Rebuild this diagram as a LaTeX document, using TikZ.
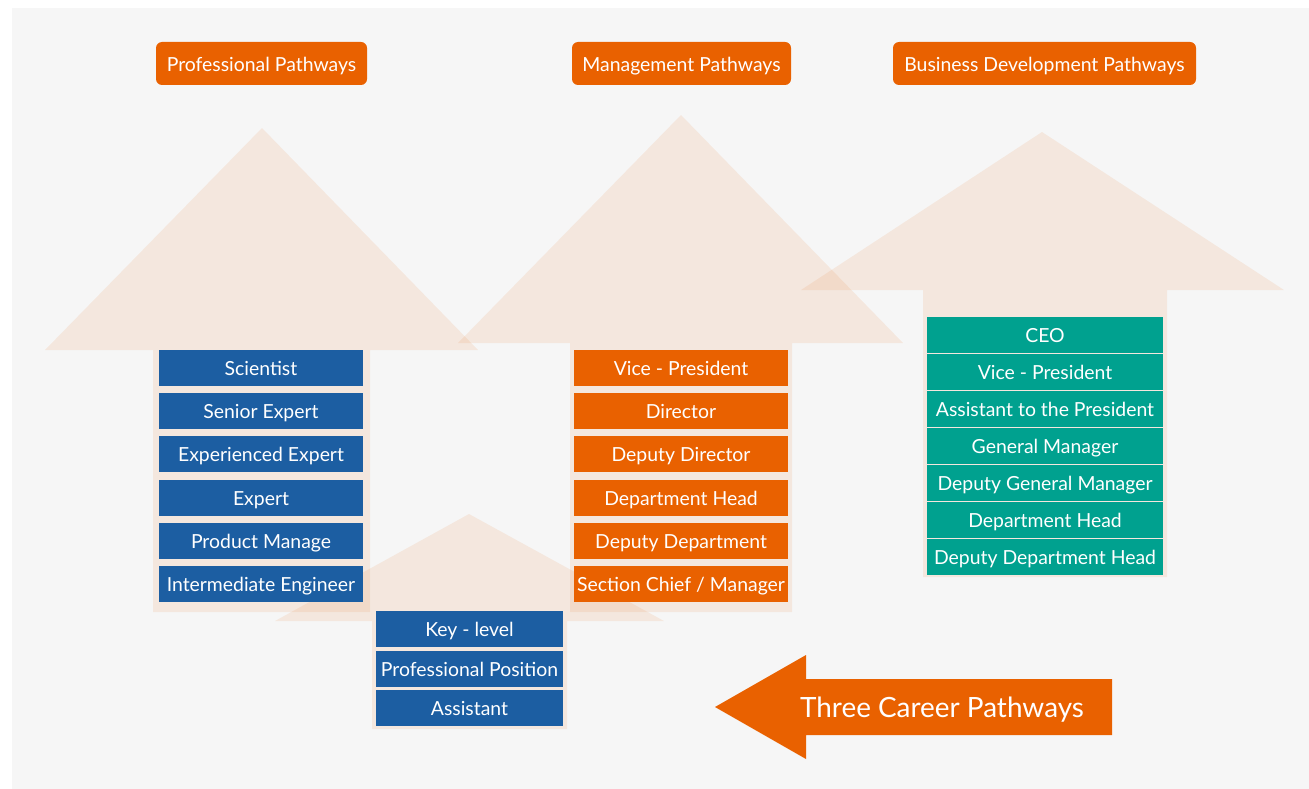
\documentclass[tikz,border=0pt]{standalone}
\usepackage{fontspec}
\setmainfont{Lato}
\definecolor{bgc}{HTML}{F6F6F6}
\definecolor{cblue}{HTML}{1C5EA2}
\definecolor{corange}{HTML}{E96100}
\definecolor{cteal}{HTML}{00A18F}
\tikzset{
  bigarrow/.style={fill=corange, fill opacity=0.095, draw=none},
  cellbase/.style={minimum height=36pt, inner sep=0pt, text=white, text height=17pt, text depth=1.5pt, font=\fontsize{19.4}{23}\selectfont},
  bluecell/.style={cellbase, fill=cblue, minimum width=204pt},
  orangecell/.style={cellbase, fill=corange, minimum width=214pt},
  tealcell/.style={cellbase, fill=cteal, minimum width=236pt},
  lowcell/.style={cellbase, fill=cblue, minimum width=187pt},
  header/.style={fill=corange, rounded corners=6pt, minimum height=43pt, inner sep=0pt, text=white, text height=17pt, text depth=1.5pt, font=\fontsize{19.4}{23}\selectfont},
}
\begin{document}
\begin{tikzpicture}[x=1pt,y=-1pt]
\useasboundingbox (0,0) rectangle (1309,789);
\fill[white] (0,0) rectangle (1309,789);
\fill[bgc] (12,8) rectangle (1309,789);
% background arrows
\fill[bigarrow] (262,128) -- (478,350) -- (370,350) -- (370,612) -- (153,612) -- (153,350) -- (45,350) -- cycle;
\fill[bigarrow] (681,115) -- (903,343) -- (792,343) -- (792,612) -- (570,612) -- (570,343) -- (458,343) -- cycle;
\fill[bigarrow] (1042,132) -- (1284,290) -- (1167,290) -- (1167,577) -- (923,577) -- (923,290) -- (801,290) -- cycle;
\fill[bigarrow] (469,514) -- (664,621) -- (567,621) -- (567,729) -- (372,729) -- (372,621) -- (275,621) -- cycle;
% headers
\node[header, minimum width=211pt] (h1) at (261.5,63.5) {Professional Pathways};
\node[header, minimum width=219pt] (h2) at (681.5,63.5) {Management Pathways};
\node[header, minimum width=303pt] (h3) at (1044.5,63.5) {Business Development Pathways};
% professional
\node[bluecell] (p1) at (261,368) {Scientist};
\node[bluecell] (p2) at (261,411) {Senior Expert};
\node[bluecell] (p3) at (261,454) {Experienced Expert};
\node[bluecell] (p4) at (261,497.5) {Expert};
\node[bluecell] (p5) at (261,541) {Product Manage};
\node[bluecell] (p6) at (261,584) {Intermediate Engineer};
% management
\node[orangecell] (m1) at (681,368) {Vice - President};
\node[orangecell] (m2) at (681,411) {Director};
\node[orangecell] (m3) at (681,454) {Deputy Director};
\node[orangecell] (m4) at (681,497.5) {Department Head};
\node[orangecell] (m5) at (681,541) {Deputy Department};
\node[orangecell] (m6) at (681,584) {Section Chief / Manager};
% business
\node[tealcell] (b1) at (1045,335) {CEO};
\node[tealcell] (b2) at (1045,372) {Vice - President};
\node[tealcell] (b3) at (1045,409) {Assistant to the President};
\node[tealcell] (b4) at (1045,446) {General Manager};
\node[tealcell] (b5) at (1045,483) {Deputy General Manager};
\node[tealcell] (b6) at (1045,520) {Department Head};
\node[tealcell] (b7) at (1045,557) {Deputy Department Head};
% low level
\node[lowcell] (l1) at (469.5,629) {Key - level};
\node[lowcell] (l2) at (469.5,669) {Professional Position};
\node[lowcell] (l3) at (469.5,708) {Assistant};
% main arrow
\fill[corange] (715,707) -- (806,655) -- (806,679) -- (1112,679) -- (1112,735) -- (806,735) -- (806,759) -- cycle;
\node[text=white, font=\fontsize{27.9}{33}\selectfont, inner sep=0pt, text height=24pt, text depth=2.5pt] (title) at (942,707) {Three Career Pathways};
\end{tikzpicture}
\end{document}
